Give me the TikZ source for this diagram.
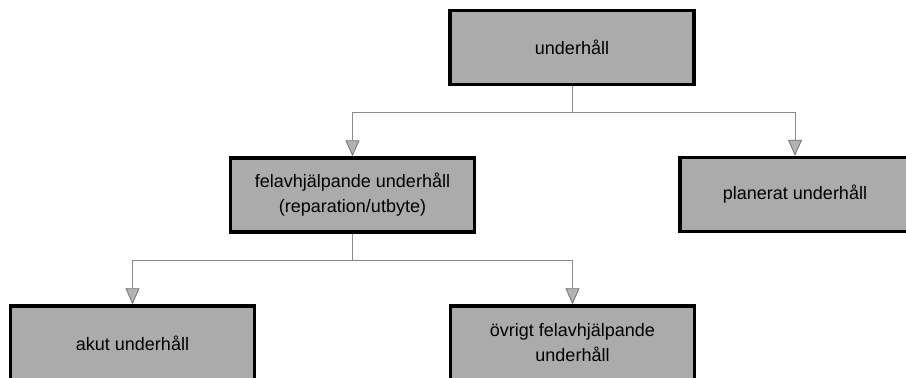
\documentclass[tikz,border=0pt]{standalone}
\usepackage{fontspec}
\setmainfont{Liberation Sans}
\usetikzlibrary{arrows.meta}

\begin{document}
\begin{tikzpicture}[x=0.5pt,y=-0.5pt,>={Triangle[width=7pt,length=8pt,color=black!55,fill=black!30,line width=0.4pt]}]
	\tikzstyle{box} = [rectangle,draw=black,fill=black!33,line width=1.7pt,minimum width=122pt,minimum height=37pt,align=center,inner sep=2pt,font=\fontsize{9}{12.5}\selectfont]
	\tikzstyle{link} = [->,draw=black!45,line width=0.5pt]
	\clip (0,0) rectangle (906,378);
	\node[box]						(root)	at (572,47.5)	{underhåll};
	\node[box]						(fel)	at (352.5,195)	{felavhjälpande underhåll\\(reparation/utbyte)};
	\node[box,minimum width=115pt]	(plan)	at (795,194.5)	{planerat underhåll};
	\node[box]						(akut)	at (132.5,343)	{akut underhåll};
	\node[box]						(ovr)	at (572.5,343)	{övrigt felavhjälpande\\underhåll};
	\draw[link]	(root.south) -- ++(0,26.5) -| (fel.north);
	\draw[link]	(root.south) -- ++(0,26.5) -| (plan.north);
	\draw[link]	(fel.south) -- ++(0,27) -| (akut.north);
	\draw[link]	(fel.south) -- ++(0,27) -| (ovr.north);
\end{tikzpicture}
\end{document}
